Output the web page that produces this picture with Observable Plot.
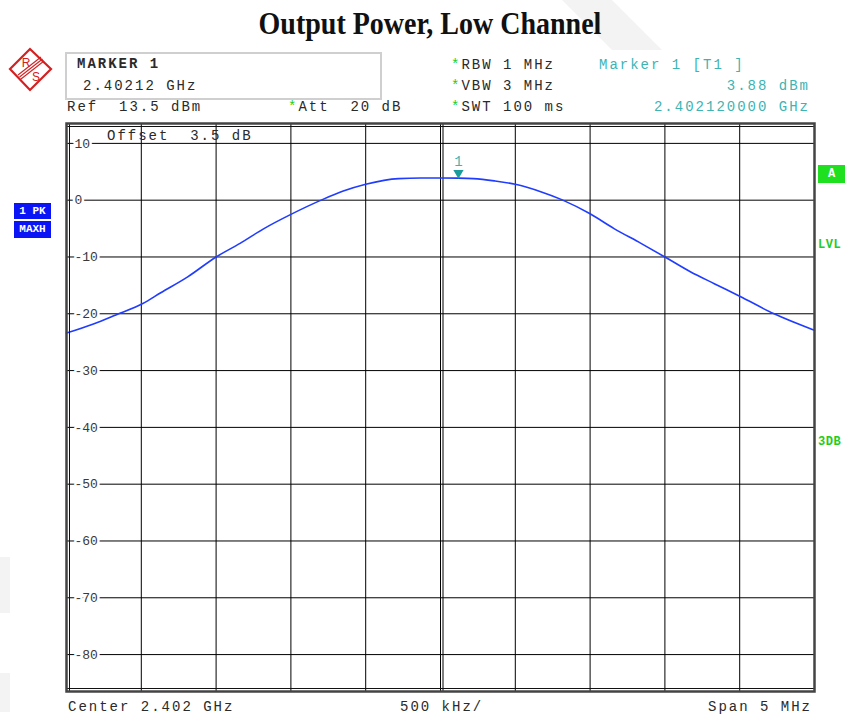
<!DOCTYPE html>
<html>
<head>
<meta charset="utf-8">
<script src="https://cdn.jsdelivr.net/npm/d3@7"></script>
<script src="https://cdn.jsdelivr.net/npm/@observablehq/plot@0.6"></script>
<style>
  html, body { margin: 0; padding: 0; background: #fff; }
  #page { position: relative; width: 845px; height: 717px; overflow: hidden; background: #fff; }
  .abs { position: absolute; white-space: pre; }
  .mono { font-family: "Liberation Mono", "DejaVu Sans Mono", monospace; font-size: 14px; letter-spacing: 2px; color: #2a2a2a; line-height: 16px; }
  .teal { color: #3cb4b4; }
  .star { color: #22cc22; }
  .side { font-family: "Liberation Mono", monospace; font-weight: bold; font-size: 11px; color: #fff; text-align: center; line-height: 17px; }
  .gtxt { font-family: "Liberation Mono", monospace; font-weight: bold; font-size: 12px; color: #22cc22; line-height: 14px; letter-spacing: 0.5px; }
  #plotwrap { position: absolute; left: 0; top: 0; }
</style>
</head>
<body>
<div id="page">
  <svg class="abs" style="left:0;top:0" width="845" height="717">
    <polygon points="562,0 612,0 662,50 612,50" fill="#f3f3f3"/>
    <polygon points="0,557 10,557 10,613 0,613" fill="#f3f3f3"/>
    <polygon points="0,673 10,673 10,712 0,712" fill="#f3f3f3"/>
  </svg>
  <div id="plotwrap"></div>
  <div class="abs" style="left:0;width:860px;top:4px;text-align:center;font-family:'Liberation Serif','Times New Roman',serif;font-weight:bold;font-size:28px;line-height:36px;color:#111;transform:scaleY(1.12);transform-origin:50% 0;">Output Power, Low Channel</div>

  <svg class="abs" style="left:0;top:0" width="60" height="100">
    <polygon points="30,49 51,69 30,90 10,69" fill="none" stroke="#d42020" stroke-width="2.2"/>
    <line x1="18" y1="75" x2="41" y2="57" stroke="#d42020" stroke-width="1.1"/>
    <line x1="19.5" y1="77" x2="42.5" y2="59" stroke="#d42020" stroke-width="1.1"/>
    <line x1="21" y1="79" x2="44" y2="61" stroke="#d42020" stroke-width="1.1"/>
    <text x="26" y="67" font-family="Liberation Sans, Arial, sans-serif" font-size="12" fill="#d42020" text-anchor="middle">R</text>
    <text x="36" y="81" font-family="Liberation Sans, Arial, sans-serif" font-size="12" fill="#d42020" text-anchor="middle">S</text>
  </svg>

  <div class="abs" style="left:65px;top:52px;width:313px;height:44px;border:2px solid #cfcfcf;"></div>
  <div class="abs mono" style="left:77px;top:56px;font-weight:bold;">MARKER 1</div>
  <div class="abs mono" style="left:83px;top:78px;">2.40212 GHz</div>
  <div class="abs mono" style="left:67px;top:99px;">Ref  13.5 dBm</div>
  <div class="abs mono" style="left:288px;top:99px;"><span class="star">*</span>Att  20 dB</div>

  <div class="abs mono" style="left:451px;top:57px;"><span class="star">*</span>RBW 1 MHz</div>
  <div class="abs mono" style="left:451px;top:78px;"><span class="star">*</span>VBW 3 MHz</div>
  <div class="abs mono" style="left:451px;top:99px;"><span class="star">*</span>SWT 100 ms</div>
  <div class="abs mono teal" style="left:599px;top:57px;">Marker 1 [T1 ]</div>
  <div class="abs mono teal" style="right:35px;top:78px;">3.88 dBm</div>
  <div class="abs mono teal" style="right:35px;top:99px;">2.402120000 GHz</div>

  <div class="abs mono" style="left:107px;top:128px;">Offset  3.5 dB</div>

  <div class="abs side" style="left:14px;top:203px;width:37px;height:16px;line-height:16px;background:#0a14f5;">1 PK</div>
  <div class="abs side" style="left:14px;top:221px;width:37px;height:17px;background:#0a14f5;">MAXH</div>

  <div class="abs side" style="left:818px;top:165px;width:27px;height:18px;line-height:18px;background:#1ee01e;font-size:12px;">A</div>
  <div class="abs gtxt" style="left:818px;top:238px;">LVL</div>
  <div class="abs gtxt" style="left:818px;top:435px;">3DB</div>

  <div class="abs mono" style="left:68px;top:699px;">Center 2.402 GHz</div>
  <div class="abs mono" style="left:400px;top:699px;">500 kHz/</div>
  <div class="abs mono" style="right:33px;top:699px;">Span 5 MHz</div>
</div>
<script>
// Trace (frequency in MHz, level in dBm)
const freqMHz = [2399.50, 2399.68, 2399.83, 2400.01, 2400.13, 2400.31, 2400.50, 2400.66, 2400.82, 2401.00,
                 2401.21, 2401.35, 2401.50, 2401.72, 2401.87, 2402.00, 2402.12, 2402.22, 2402.36, 2402.50,
                 2402.67, 2402.81, 2403.00, 2403.16, 2403.34, 2403.50, 2403.67, 2403.83, 2404.00, 2404.23,
                 2404.49, 2404.50];
const levelDbm = [-23.4, -21.8, -20.2, -18.2, -16.3, -13.5, -10.0, -7.6, -5.0, -2.5,
                  0.1, 1.6, 2.8, 3.8, 3.9, 3.9, 3.88, 3.8, 3.4, 2.8,
                  1.5, 0.1, -2.4, -5.0, -7.6, -10.0, -12.6, -14.7, -16.9, -20.0,
                  -22.8, -22.9];
// Marker
const markerFreq = [2402.12];
const markerLevel = [3.88];
const markerLabel = ["1"];
// Axes
const xDomain = [2399.5, 2404.5];
const yDomain = [-86.5, 13.5];
const xGrid = [2399.5, 2400.0, 2400.5, 2401.0, 2401.5, 2402.0, 2402.5, 2403.0, 2403.5, 2404.0, 2404.5];
const yTicks = [10, 0, -10, -20, -30, -40, -50, -60, -70, -80];
const yTickLabels = ["10", "0", "-10", "-20", "-30", "-40", "-50", "-60", "-70", "-80"];

const trace = freqMHz.map((f, i) => ({f, v: levelDbm[i]}));
const marker = markerFreq.map((f, i) => ({f, v: markerLevel[i], t: markerLabel[i]}));
const ticks = yTicks.map((v, i) => ({v, t: yTickLabels[i]}));

const chart = Plot.plot({
  width: 845,
  height: 717,
  marginLeft: 66,
  marginRight: 31,
  marginTop: 123,
  marginBottom: 26,
  style: {background: "transparent", overflow: "visible"},
  x: {domain: xDomain, axis: null},
  y: {domain: yDomain, axis: null},
  marks: [
    Plot.ruleX(xGrid, {stroke: "#000", strokeWidth: 1}),
    Plot.ruleY(yTicks, {stroke: "#000", strokeWidth: 1}),
    Plot.ruleX([2402.0], {stroke: "#000", strokeWidth: 1, dx: 2.5}),
    Plot.text(ticks, {x: () => xDomain[0], y: "v", text: "t", dx: 8, textAnchor: "start",
      fill: "#3a3a3a", stroke: "white", strokeWidth: 5, paintOrder: "stroke",
      fontFamily: "Liberation Mono, monospace", fontSize: 13}),
    Plot.line(trace, {x: "f", y: "v", stroke: "#1f3cff", strokeWidth: 1.6, curve: "monotone-x"}),
    Plot.dot(marker, {x: "f", y: "v", symbol: "triangle", rotate: 180, r: 3.8, dy: -5.2,
      fill: "#1a9c9c", stroke: "none"}),
    Plot.text(marker, {x: "f", y: "v", text: "t", dy: -17, fill: "#3cb4b4",
      fontFamily: "Liberation Mono, monospace", fontSize: 14}),
    Plot.ruleX([xDomain[0]], {stroke: "#111", strokeWidth: 1, dx: 3}),
    Plot.ruleY([yDomain[1]], {stroke: "#111", strokeWidth: 1, dy: 3}),
    Plot.ruleY([yDomain[0]], {stroke: "#111", strokeWidth: 1, dy: -3}),
    Plot.frame({stroke: "#444", strokeWidth: 2.5})
  ]
});
document.getElementById("plotwrap").appendChild(chart);
</script>
</body>
</html>
